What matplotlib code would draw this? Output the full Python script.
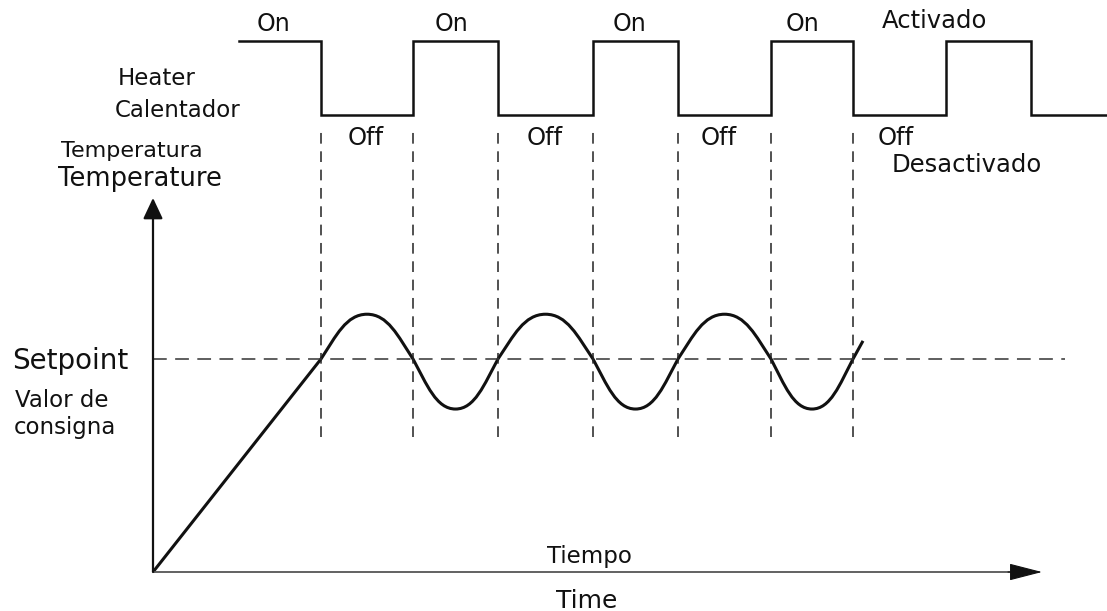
import matplotlib
matplotlib.use("Agg")
import matplotlib.pyplot as plt
from matplotlib.path import Path
from matplotlib.patches import PathPatch

plt.rcParams['font.family'] = ['DejaVu Sans']

# heater switching times (start, switches..., end) and state on each interval
switch_times = [8.6, 16.8, 26.0, 34.5, 44.0, 52.5, 61.8, 70.0, 79.3, 87.8, 95.4]
heater_states = [1, 0, 1, 0, 1, 0, 1, 0, 1, 0]

# temperature: setpoint, ramp start, crossings and extremes between them
setpoint = 100.0
ramp_start = (0.0, 0.0)
crossings = [16.8, 26.0, 34.5, 44.0, 52.5, 61.8, 70.0]
extremes = [121.0, 76.5, 121.0, 76.5, 121.0, 76.5]
temp_end = (71.0, 108.5)

# figure is 1107x611 px; one axes over the whole thing
fig = plt.figure(figsize=(11.07, 6.11), dpi=100)
ax = fig.add_axes([0, 0, 1, 1])
ax.set_xlim(-15.3, 95.4)
ax.set_ylim(-18.3, 268.5)
ax.axis('off')

on_level, off_level = 249.3, 214.6

# heater square wave
levels = [on_level if s else off_level for s in heater_states]
levels.append(levels[-1])
ax.step(switch_times, levels, where='post', color='#111111', lw=1.8,
        solid_joinstyle='miter')

# vertical dashed lines at the switches
for t in crossings:
    ax.plot([t, t], [63.4, 208.0], color='#222222', lw=1.1,
            linestyle=(0, (7, 5)))

# setpoint line
ax.plot([0, 91.2], [setpoint, setpoint], color='#333333', lw=1.1,
        linestyle=(0, (9, 5.5)))

# temperature curve: ramp then bezier half-waves
verts = [ramp_start, (crossings[0], setpoint)]
codes = [Path.MOVETO, Path.LINETO]
for i, e in enumerate(extremes):
    a, b = crossings[i], crossings[i + 1]
    p = 0.5 * (a + b)
    q = p - a
    d = e - setpoint
    verts += [(a + 0.33 * q, setpoint + 0.52 * d), (p - 0.45 * q, e), (p, e)]
    codes += [Path.CURVE4] * 3
    verts += [(p + 0.45 * q, e), (b - 0.33 * q, setpoint + 0.52 * d), (b, setpoint)]
    codes += [Path.CURVE4] * 3
verts.append(temp_end)
codes.append(Path.LINETO)
ax.add_patch(PathPatch(Path(verts, codes), facecolor='none', edgecolor='#111111',
                       lw=2.2, capstyle='butt'))

# axes with arrows
ax.annotate('', xy=(0, 175.6), xytext=(0, 0),
            arrowprops=dict(arrowstyle='-|>,head_length=0.85,head_width=0.4',
                            mutation_scale=15, color='#111111', lw=1.6,
                            shrinkA=0, shrinkB=0))
ax.plot([0, 87], [0, 0], color='#555555', lw=1.3, solid_capstyle='butt')
ax.annotate('', xy=(88.9, 0), xytext=(85.5, 0),
            arrowprops=dict(arrowstyle='-|>,head_length=1.4,head_width=0.36',
                            mutation_scale=15, color='#111111', lw=0.8,
                            shrinkA=0, shrinkB=0))


def px(x, y):
    return x / 1107, 1 - y / 611


def label(x, y, s, size):
    fig.text(*px(x, y), s, fontsize=size, ha='left', va='baseline', color='#111111')


for x in [257, 435, 613, 786]:
    label(x, 31, 'On', 17)
label(882, 28, 'Activado', 17.5)
label(118, 85, 'Heater', 16.5)
label(115, 117, 'Calentador', 16.5)
for x in [348, 527, 701, 878]:
    label(x, 145, 'Off', 17.5)
label(892, 172, 'Desactivado', 17.5)
label(61, 157, 'Temperatura', 16)
label(58, 186, 'Temperature', 18.5)
label(12, 369, 'Setpoint', 20)
label(15, 407, 'Valor de', 16.5)
label(14, 434, 'consigna', 16.5)
label(547, 563, 'Tiempo', 16.5)
label(556, 608, 'Time', 18)

fig.savefig('out.png', dpi=100, facecolor='white')
